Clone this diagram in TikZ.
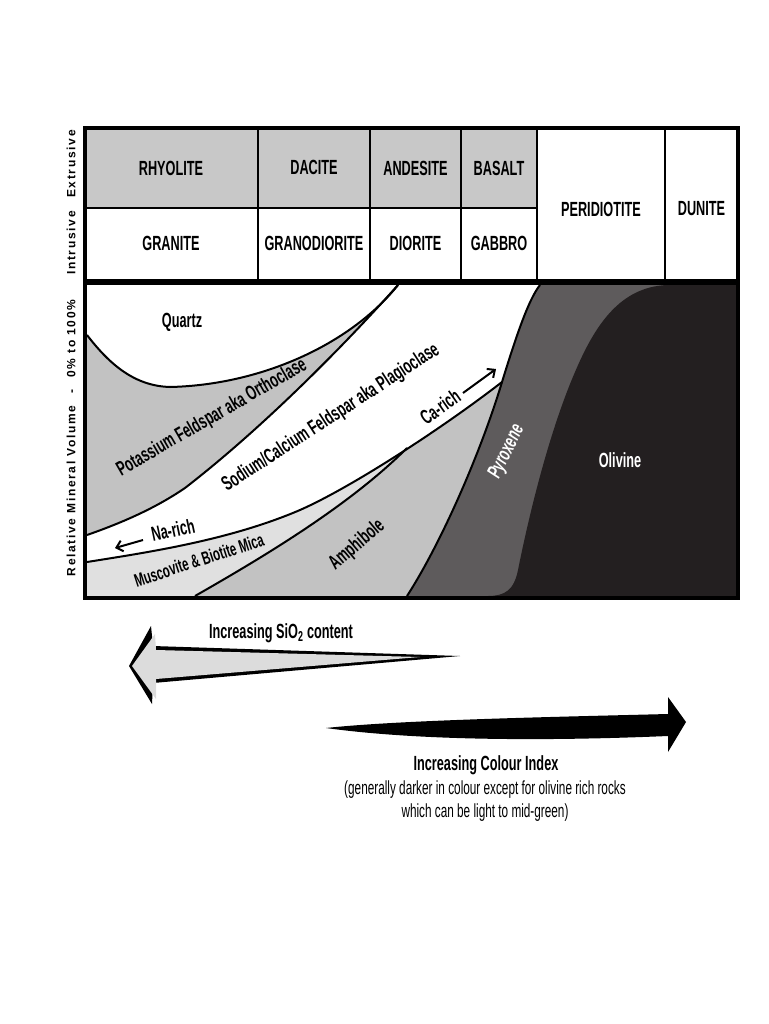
\documentclass[tikz,border=0pt]{standalone}
\usepackage{fontspec}
\setmainfont{Liberation Sans}
\newfontfamily\condfont{Liberation Sans}[FakeStretch=0.62]
\newfontfamily\axisfont{Liberation Sans}[LetterSpace=14]
\usetikzlibrary{arrows.meta}
\definecolor{tabgray}{HTML}{C8C8C8}
\definecolor{kspargray}{HTML}{C2C2C2}
\definecolor{micagray}{HTML}{E0E0E0}
\definecolor{pyroxgray}{HTML}{5E5B5C}
\definecolor{olivblack}{HTML}{231F20}
\definecolor{silgray}{HTML}{DCDCDC}
\begin{document}
\begin{tikzpicture}[x=1pt,y=-1pt]
        \tikzstyle{rock}=[font=\condfont\bfseries\fontsize{20.5}{23}\selectfont,inner sep=0pt]
        \tikzstyle{mineral}=[rock]
        \tikzstyle{axislabel}=[font=\axisfont\bfseries\fontsize{12}{14}\selectfont,rotate=90,inner sep=0pt]
        \tikzstyle{note}=[font=\condfont\fontsize{19}{21}\selectfont,inner sep=0pt,anchor=base]
        \tikzstyle{boundary}=[draw=black,line width=2pt]
        \tikzstyle{cell}=[draw=black,line width=1.5pt]
        \tikzstyle{trend}=[draw,line width=2pt,-{Straight Barb[length=6pt,width=11pt]}]
       \useasboundingbox (0,0) rectangle (768,1024);
       % table
       \fill[tabgray] (85,128) rectangle (537,208);
       \path[cell] (85,208) -- (537,208);
       \foreach \x in {258,370,461,537,665}
         \path[cell] (\x,128) -- (\x,282);
       % mineral fields
       \fill[white] (87,285) rectangle (736,596);
       \fill[kspargray] (87,335) .. controls (110,365) and (135,386) .. (170,387)
          .. controls (260,385) and (350,345) .. (398,285)
          .. controls (340,350) and (260,430) .. (185,488)
          .. controls (160,505) and (130,520) .. (87,535) -- cycle;
       \begin{scope}
         \clip (87,562) .. controls (150,552) and (230,540) .. (300,510)
            .. controls (350,488) and (440,430) .. (502,382) -- (736,382) -- (736,596) -- (87,596) -- cycle;
         \fill[micagray] (87,285) rectangle (736,596);
         \fill[kspargray] (195,596) .. controls (265,556) and (350,505) .. (407,448) -- (460,390) -- (736,300) -- (736,596) -- cycle;
       \end{scope}
       \fill[pyroxgray] (540,285) .. controls (528,300) and (515,340) .. (502,382)
          .. controls (480,455) and (440,545) .. (407,596) -- (736,596) -- (736,285) -- cycle;
       \fill[olivblack] (488,596) .. controls (505,596) and (514,590) .. (518,570)
          .. controls (530,510) and (550,430) .. (575,372)
          .. controls (595,325) and (620,287) .. (667,285) -- (736,285) -- (736,596) -- cycle;
       \path[boundary] (87,335) .. controls (110,365) and (135,386) .. (170,387)
          .. controls (260,385) and (350,345) .. (398,285);
       \path[boundary] (87,535) .. controls (130,520) and (160,505) .. (185,488)
          .. controls (260,430) and (340,350) .. (398,285);
       \path[boundary] (87,562) .. controls (150,552) and (230,540) .. (300,510)
          .. controls (350,488) and (440,430) .. (502,382);
       \path[boundary] (195,596) .. controls (265,556) and (350,505) .. (407,448);
       \path[boundary] (540,285) .. controls (528,300) and (515,340) .. (502,382)
          .. controls (480,455) and (440,545) .. (407,596);
       % frame
       \draw[line width=6pt] (85,282) -- (738,282);
       \draw[line width=4pt] (85,128) rectangle (738,598);
       % rock names
       \node[rock] (rhyolite) at (171,168) {RHYOLITE};
       \node[rock] (dacite) at (314,167) {DACITE};
       \node[rock] (andesite) at (415.5,168) {ANDESITE};
       \node[rock] (basalt) at (499,168) {BASALT};
       \node[rock] (granite) at (171,243) {GRANITE};
       \node[rock] (granodiorite) at (314,243) {GRANODIORITE};
       \node[rock] (diorite) at (415.5,243) {DIORITE};
       \node[rock] (gabbro) at (499,243) {GABBRO};
       \node[rock] (peridiotite) at (601,209) {PERIDIOTITE};
       \node[rock] (dunite) at (701.5,209) {DUNITE};
       % axis
       \node[axislabel] (extrusive) at (71,164) {Extrusive};
       \node[axislabel] (intrusive) at (71,243) {Intrusive};
       \node[axislabel] (volume) at (71,438) {Relative Mineral Volume\quad-\quad0\% to 100\%};
       % minerals
       \node[mineral] (quartz) at (182,322) {Quartz};
       \node[mineral,rotate=30] (kspar) at (212,418) {Potassium Feldspar aka Orthoclase};
       \node[mineral,rotate=33] (plag) at (331,418) {Sodium/Calcium Feldspar aka Plagioclase};
       \node[mineral,rotate=12] (narich) at (173,530) {Na-rich};
       \node[mineral,rotate=35] (carich) at (440,407) {Ca-rich};
       \node[mineral,rotate=18,font=\condfont\bfseries\fontsize{18.5}{21}\selectfont] (mica) at (199,560) {Muscovite \& Biotite Mica};
       \node[mineral,rotate=40] (amphibole) at (357,545) {Amphibole};
       \node[mineral,rotate=64,white,font=\condfont\bfseries\itshape\fontsize{20.5}{23}\selectfont] (pyroxene) at (507,452) {Pyroxene};
       \node[mineral,white] (olivine) at (620,460) {Olivine};
       \coordinate (na1) at (143,540);
       \coordinate (na2) at (115,548);
       \coordinate (ca1) at (463,393);
       \coordinate (ca2) at (496,369);
       \path[trend] (na1) -- (na2);
       \path[trend] (ca1) -- (ca2);
       % trend arrows
       \fill[black] (460,656) -- (153,646) -- (151,626) -- (129,666) -- (152,704) -- (153,683) -- cycle;
       \fill[silgray] (420,657) -- (156,650) -- (155,634) -- (132,666) -- (156,699) -- (156,679) -- cycle;
       \fill[black] (326,728) .. controls (400,720) and (550,717) .. (668,714) -- (668,697) -- (686,722)
          -- (668,752) -- (668,736) .. controls (550,741) and (420,741) .. (326,728) -- cycle;
       \node[note,font=\condfont\bfseries\fontsize{20.5}{23}\selectfont] (silica) at (281,638) {Increasing SiO\textsubscript{2} content};
       \node[note,font=\condfont\bfseries\fontsize{20.5}{23}\selectfont] (colour) at (486,770) {Increasing Colour Index};
       \node[note] (colournote) at (485,794) {(generally darker in colour except for olivine rich rocks};
       \node[note] (colournote2) at (485,817) {which can be light to mid-green)};
      \end{tikzpicture}
\end{document}
